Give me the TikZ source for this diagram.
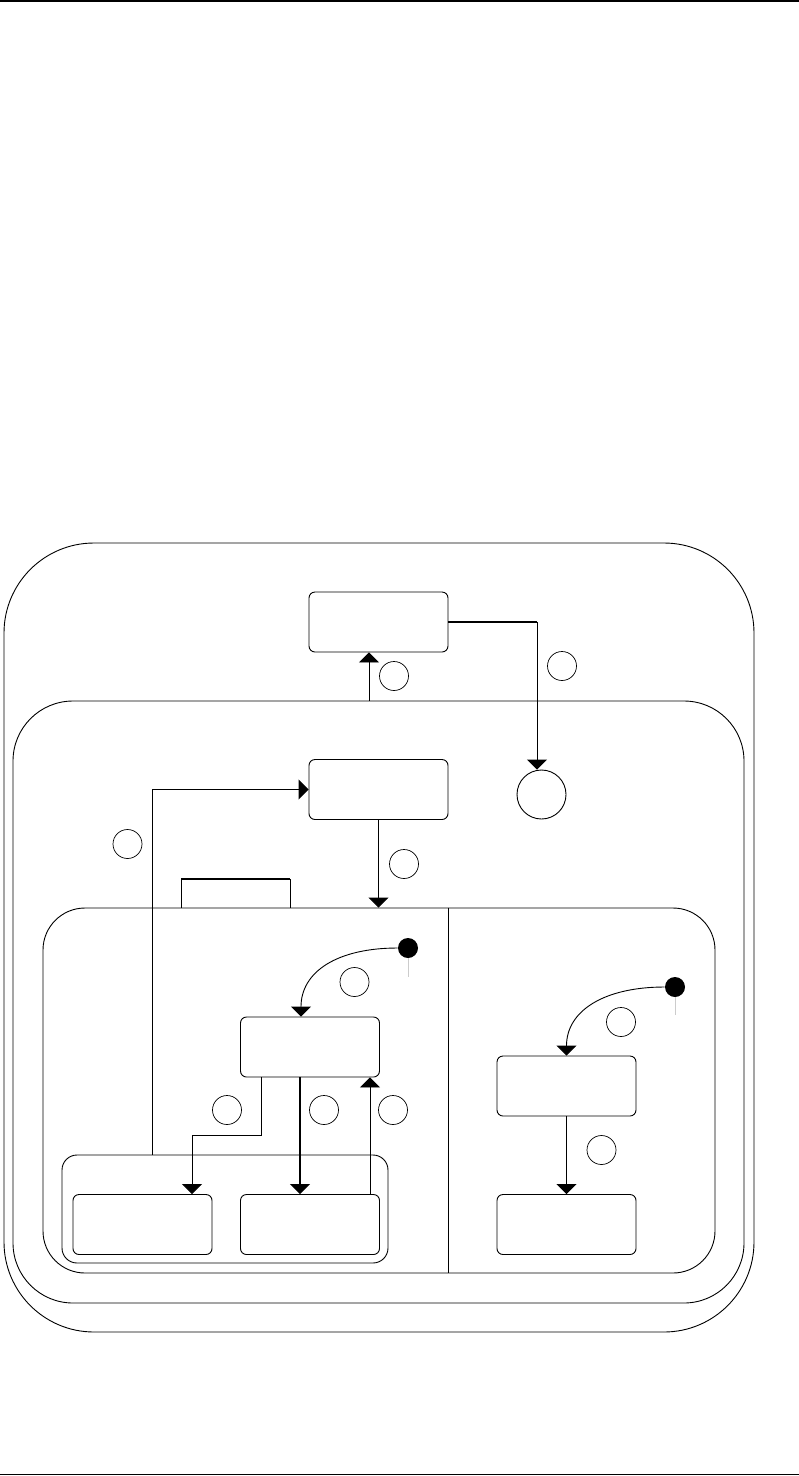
\documentclass[tikz,border=0pt]{standalone}
\usetikzlibrary{arrows.meta,positioning,calc}

\begin{document}
\begin{tikzpicture}[x=1pt,y=-1pt,line width=0.9pt,>={Triangle[length=10pt,width=20pt]},
 frame/.style={draw,inner sep=0pt},
 state/.style={draw,rounded corners=6pt,minimum width=139pt,minimum height=60pt,inner sep=0pt},
 lbl/.style={draw,circle,minimum size=29pt,inner sep=0pt,line width=0.7pt},
 init/.style={circle,fill=black,minimum size=20pt,inner sep=0pt},
 stub/.style={draw=gray!40,line width=0.6pt},
 heavy/.style={line width=1.6pt}]
 \useasboundingbox (0,0) rectangle (799,1476);
 \draw[line width=1.5pt] (0,0.75) -- (799,0.75);
 \draw[line width=1.5pt] (0,1474.5) -- (799,1474.5);
 % nested superstates
 \node[frame,rounded corners=90pt,minimum width=750pt,minimum height=789pt] (outer) at (379,937.5) {};
 \node[frame,rounded corners=60pt,minimum width=731pt,minimum height=602pt] (mid) at (378.5,1002) {};
 \node[frame,rounded corners=42pt,minimum width=672pt,minimum height=365pt] (reg) at (379,1090.5) {};
 \node[frame,rounded corners=15pt,minimum width=326pt,minimum height=108pt] (comp) at (225,1209) {};
 \draw ([xshift=69pt]reg.north) -- ([xshift=69pt]reg.south);
 \draw (181,908) -- (181,879);
 \draw (290,908) -- (290,879);
 \draw[heavy] (181,879) -- (290,879);
 % states
 \node[state] (top) at (378.5,622) {};
 \node[state] (upper) at (378.5,789.5) {};
 \node[state] (left) at (310,1047) {};
 \node[state] (right) at (566.5,1086) {};
 \node[state] (leftA) at (142.5,1224.5) {};
 \node[state] (leftB) at (310,1224.5) {};
 \node[state] (rightB) at (566.5,1224.5) {};
 \node[draw,circle,minimum size=49pt,inner sep=0pt] (fin) at (541.5,794.5) {};
 \node[init] (i1) at (408,948) {};
 \node[init] (i2) at (675,987) {};
 \draw[stub] (i1.south) -- ++(0,19);
 \draw[stub] (i2.south) -- ++(0,18);
 % transitions
 \draw[->] ([xshift=-9.5pt]top.south |- mid.north) -- ([xshift=-9.5pt]top.south);
 \draw[heavy] (top.east) -- ([xshift=-4.5pt]top.east -| fin.north);
 \draw[->] ([xshift=-4.5pt]top.east -| fin.north) -- ([xshift=-4.5pt]fin.north);
 \draw ([xshift=-73pt]comp.north) -- ([xshift=-73pt]comp.north |- upper.west);
 \draw[->,heavy] ([xshift=-73pt]comp.north |- upper.west) -- (upper.west);
 \draw[->] (upper.south) -- (upper.south |- reg.north);
 \draw[->] (i1.west) .. controls +(-60,0) and +(0,-45) .. ([xshift=-9pt]left.north);
 \draw[->] ([xshift=-49pt]left.south) -- ++(0,58) -| ([xshift=49.5pt]leftA.north);
 \draw[->,heavy] ([xshift=-10pt]left.south) -- ([xshift=-10pt]leftB.north);
 \draw[->] ([xshift=60pt]leftB.north) -- ([xshift=60pt]left.south);
 \draw[->] (i2.west) .. controls +(-60,0) and +(0,-45) .. (right.north);
 \draw[->,heavy] (right.south) -- (rightB.north);
 % transition labels
 \node[lbl] (t1) at (394,676) {};
 \node[lbl] (t2) at (562,666) {};
 \node[lbl] (t3) at (127.5,844) {};
 \node[lbl] (t4) at (404,864) {};
 \node[lbl] (t5) at (354.5,982) {};
 \node[lbl] (t6) at (621,1022) {};
 \node[lbl] (t7) at (601.5,1150) {};
 \node[lbl] (t8) at (227,1110) {};
 \node[lbl] (t9) at (324,1110) {};
 \node[lbl] (t10) at (393,1110) {};
\end{tikzpicture}
\end{document}
